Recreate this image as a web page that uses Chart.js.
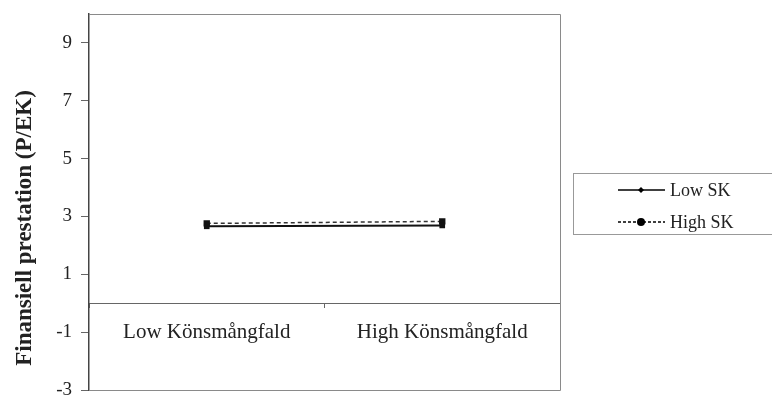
<!DOCTYPE html>
<html><head><meta charset="utf-8">
<script src="https://cdn.jsdelivr.net/npm/chart.js@4/dist/chart.umd.min.js"></script>
<style>html,body{margin:0;padding:0;background:#fff}#wrap{width:772px;height:401px;position:relative}</style>
</head><body><div id="wrap"><canvas id="c" width="772" height="401"></canvas></div>
<script>
const categories = ["Low Könsmångfald", "High Könsmångfald"];
const lowSK = [2.66, 2.69];
const highSK = [2.76, 2.83];
const seriesNames = ["Low SK", "High SK"];
const yTicks = [-3, -1, 1, 3, 5, 7, 9];
const yMin = -3, yMax = 10;
const yTitle = "Finansiell prestation (P/EK)";
const serif = "'Liberation Serif', 'Times New Roman', serif";

const extras = {
  id: 'extras',
  afterDraw(chart) {
    const ctx = chart.ctx, a = chart.chartArea;
    ctx.save();
    // plot border
    ctx.strokeStyle = '#8a8a8a'; ctx.lineWidth = 1;
    ctx.beginPath();
    ctx.moveTo(a.left, a.top + 0.5); ctx.lineTo(a.right + 0.5, a.top + 0.5);
    ctx.lineTo(a.right + 0.5, a.bottom + 0.5); ctx.lineTo(a.left, a.bottom + 0.5);
    ctx.stroke();
    // y title
    ctx.fillStyle = '#222';
    ctx.font = "bold 23px " + serif;
    ctx.translate(25, 228); ctx.rotate(-Math.PI / 2);
    ctx.textAlign = 'center'; ctx.textBaseline = 'middle';
    ctx.fillText(yTitle, 0, 0);
    ctx.restore();
    // legend
    ctx.save();
    ctx.strokeStyle = '#999'; ctx.lineWidth = 1;
    ctx.strokeRect(573.5, 173.5, 200, 61);
    const items = [{y: 190, dash: [], style: 'd'}, {y: 222, dash: [3, 2], style: 's'}];
    items.forEach((it, i) => {
      ctx.strokeStyle = '#000'; ctx.lineWidth = 1.3;
      ctx.setLineDash(it.dash);
      ctx.beginPath(); ctx.moveTo(618, it.y); ctx.lineTo(665, it.y); ctx.stroke();
      ctx.setLineDash([]);
      ctx.fillStyle = '#000';
      ctx.beginPath();
      if (it.style === 'd') { ctx.moveTo(641, it.y - 3); ctx.lineTo(644, it.y); ctx.lineTo(641, it.y + 3); ctx.lineTo(638, it.y); }
      else { ctx.arc(641, it.y, 4, 0, Math.PI * 2); }
      ctx.closePath(); ctx.fill();
      ctx.fillStyle = '#222';
      ctx.font = "18px " + serif;
      ctx.textAlign = 'left'; ctx.textBaseline = 'middle';
      ctx.fillText(seriesNames[i], 670, it.y + 1);
    });
    ctx.restore();
  }
};

new Chart(document.getElementById('c'), {
  type: 'line',
  data: {
    labels: categories,
    datasets: [
      { label: seriesNames[0], data: lowSK, borderColor: '#111', backgroundColor: '#111', borderWidth: 2,
        pointStyle: 'rect', pointRadius: 4, pointBorderWidth: 0, tension: 0 },
      { label: seriesNames[1], data: highSK, borderColor: '#333', backgroundColor: '#111', borderWidth: 1.5, borderDash: [4, 3],
        pointStyle: 'rect', pointRadius: 4.5, pointBorderWidth: 0, tension: 0 }
    ]
  },
  options: {
    responsive: false, animation: false,
    layout: { padding: { top: 14, right: 212, bottom: 11, left: 0 } },
    plugins: { legend: { display: false }, tooltip: { enabled: false } },
    scales: {
      x: {
        type: 'category', offset: true, position: { y: 0 },
        afterFit(s) { s.paddingLeft = 0; s.paddingRight = 0; s.paddingTop = 0; s.paddingBottom = 0; },
        grid: { display: true, drawOnChartArea: false, drawTicks: true, tickLength: 4, offset: true, color: '#666' },
        border: { display: true, color: '#666', width: 1 },
        ticks: { color: '#222', font: { family: serif, size: 21 }, padding: 13, maxRotation: 0 }
      },
      y: {
        min: yMin, max: yMax,
        afterFit(s) { s.width = 89; s.paddingTop = 0; s.paddingBottom = 0; },
        afterBuildTicks(s) { s.ticks = yTicks.map(v => ({ value: v })); },
        grid: { display: true, drawOnChartArea: false, drawTicks: true, tickLength: 8, color: '#666' },
        border: { display: true, color: '#444', width: 1.5 },
        ticks: { color: '#222', font: { family: serif, size: 19 }, padding: 9 }
      }
    }
  },
  plugins: [extras]
});
</script></body></html>
